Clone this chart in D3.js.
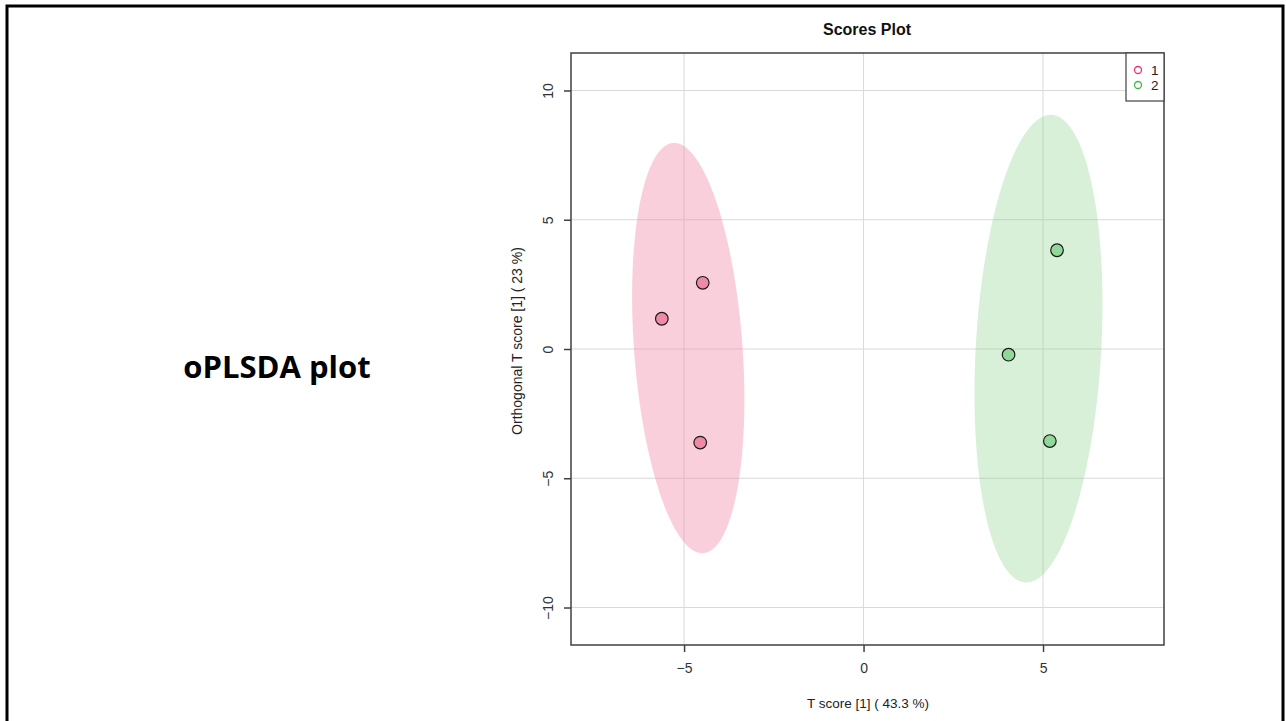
<!DOCTYPE html>
<html>
<head>
<meta charset="utf-8">
<script src="https://cdn.jsdelivr.net/npm/d3@7"></script>
<style>
  html, body { margin: 0; padding: 0; background: #fff; }
  svg { display: block; }
  text { font-family: "Liberation Sans", Arial, sans-serif; }
</style>
</head>
<body>
<svg id="chart" width="1286" height="721"></svg>
<script>
// OPLS-DA scores: predictive component (T score) and orthogonal component
const groups = ["1", "2"];
const group1T = [-4.48, -5.62, -4.55];
const group1Orth = [2.56, 1.17, -3.62];
const group2T = [5.39, 4.04, 5.19];
const group2Orth = [3.82, -0.22, -3.56];
const xTicks = [-5, 0, 5];
const yTicks = [-10, -5, 0, 5, 10];
const xLabel = "T score [1] ( 43.3 %)";
const yLabel = "Orthogonal T score [1] ( 23 %)";
const plotTitle = "Scores Plot";
const slideTitle = "oPLSDA plot";

const series = [
  { name: groups[0], t: group1T, o: group1Orth, fill: "#F08CAA", op: 0.42, point: "#EE8AA5", key: "#E8336F" },
  { name: groups[1], t: group2T, o: group2Orth, fill: "#88D088", op: 0.33, point: "#90D89A", key: "#3DB54A" }
];

const svg = d3.select("#chart");

// slide frame
svg.append("rect").attr("x", 7).attr("y", 6).attr("width", 1276).attr("height", 730)
  .attr("fill", "none").attr("stroke", "#000").attr("stroke-width", 3);

svg.append("text").attr("x", 277).attr("y", 378).attr("text-anchor", "middle")
  .style("font-family", "'Open Sans', 'Noto Sans', sans-serif")
  .style("font-weight", "700").style("font-size", "31px").attr("fill", "#000")
  .text(slideTitle);

const box = { left: 571, top: 53, right: 1164, bottom: 645 };
const x = d3.scaleLinear().domain([-8.15, 8.37]).range([box.left, box.right]);
const y = d3.scaleLinear().domain([-11.45, 11.45]).range([box.bottom, box.top]);

const plot = svg.append("g");
const clipId = "plotclip";
plot.append("clipPath").attr("id", clipId).append("rect")
  .attr("x", box.left).attr("y", box.top)
  .attr("width", box.right - box.left).attr("height", box.bottom - box.top);

// grid
const grid = plot.append("g").attr("clip-path", `url(#${clipId})`);
grid.selectAll("line.gx").data(xTicks).join("line")
  .attr("x1", d => x(d)).attr("x2", d => x(d))
  .attr("y1", box.top).attr("y2", box.bottom)
  .attr("stroke", "#d9d9d9").attr("stroke-width", 1);
grid.selectAll("line.gy").data(yTicks).join("line")
  .attr("y1", d => y(d)).attr("y2", d => y(d))
  .attr("x1", box.left).attr("x2", box.right)
  .attr("stroke", "#d9d9d9").attr("stroke-width", 1);

// 95% confidence ellipse from each group's covariance
const chi2 = 5.991;
function ellipsePoints(tv, ov) {
  const n = tv.length;
  const mx = d3.mean(tv), my = d3.mean(ov);
  let sxx = 0, syy = 0, sxy = 0;
  for (let i = 0; i < n; i++) {
    sxx += (tv[i] - mx) ** 2;
    syy += (ov[i] - my) ** 2;
    sxy += (tv[i] - mx) * (ov[i] - my);
  }
  sxx /= (n - 1); syy /= (n - 1); sxy /= (n - 1);
  // Cholesky factor of covariance
  const a = Math.sqrt(sxx);
  const b = sxy / a;
  const c = Math.sqrt(Math.max(syy - b * b, 1e-12));
  const r = Math.sqrt(chi2);
  const pts = [];
  for (let k = 0; k <= 200; k++) {
    const th = 2 * Math.PI * k / 200;
    const u = Math.cos(th) * r, v = Math.sin(th) * r;
    pts.push([mx + a * u, my + b * u + c * v]);
  }
  return pts;
}
const line = d3.line().x(d => x(d[0])).y(d => y(d[1]));
const ell = plot.append("g").attr("clip-path", `url(#${clipId})`);
series.forEach(s => {
  ell.append("path").attr("d", line(ellipsePoints(s.t, s.o)) + "Z")
    .attr("fill", s.fill).attr("fill-opacity", s.op).attr("stroke", "none");
});

// points
series.forEach(s => {
  plot.append("g").selectAll("circle").data(s.t.map((t, i) => [t, s.o[i]])).join("circle")
    .attr("cx", d => x(d[0])).attr("cy", d => y(d[1])).attr("r", 6.3)
    .attr("fill", s.point).attr("stroke", "#1a1a1a").attr("stroke-width", 1.2);
});

// frame
plot.append("rect").attr("x", box.left).attr("y", box.top)
  .attr("width", box.right - box.left).attr("height", box.bottom - box.top)
  .attr("fill", "none").attr("stroke", "#404040").attr("stroke-width", 1.5);

// axes
const xAxis = d3.axisBottom(x).tickValues(xTicks).tickSize(7).tickPadding(11).tickFormat(d3.format("d"));
const gx = svg.append("g").attr("transform", `translate(0,${box.bottom})`).call(xAxis);
gx.select(".domain").remove();
gx.selectAll(".tick line").attr("stroke", "#404040").attr("stroke-width", 1.5);
gx.selectAll(".tick text").attr("fill", "#333").style("font-size", "14px")
  .style("font-family", "'Liberation Sans', Arial, sans-serif");

const yAxis = d3.axisLeft(y).tickValues(yTicks).tickSize(7).tickFormat(d3.format("d"));
const gy = svg.append("g").attr("transform", `translate(${box.left},0)`).call(yAxis);
gy.select(".domain").remove();
gy.selectAll(".tick line").attr("stroke", "#404040").attr("stroke-width", 1.5);
gy.selectAll(".tick text").attr("fill", "#333").style("font-size", "14px")
  .style("font-family", "'Liberation Sans', Arial, sans-serif")
  .attr("x", null).attr("dy", null)
  .attr("text-anchor", "middle")
  .attr("transform", "translate(-18,0) rotate(-90)");

// titles
svg.append("text").attr("x", 867).attr("y", 35).attr("text-anchor", "middle")
  .style("font-weight", "700").style("font-size", "16px").attr("fill", "#111").text(plotTitle);
svg.append("text").attr("x", 868).attr("y", 708).attr("text-anchor", "middle")
  .style("font-size", "13.5px").attr("fill", "#222").text(xLabel);
svg.append("text").attr("transform", `translate(522,341) rotate(-90)`)
  .attr("text-anchor", "middle").style("font-size", "14px").attr("fill", "#222").text(yLabel);

// legend
const lg = svg.append("g");
lg.append("rect").attr("x", 1126).attr("y", box.top).attr("width", box.right - 1126).attr("height", 48)
  .attr("fill", "#fff").attr("stroke", "#404040").attr("stroke-width", 1.2);
series.forEach((s, i) => {
  const yy = box.top + 17 + i * 15;
  lg.append("circle").attr("cx", 1138).attr("cy", yy).attr("r", 3.5)
    .attr("fill", "none").attr("stroke", s.key).attr("stroke-width", 1.3);
  lg.append("text").attr("x", 1151).attr("y", yy + 5).style("font-size", "13.5px")
    .attr("fill", "#222").text(s.name);
});
</script>
</body>
</html>
